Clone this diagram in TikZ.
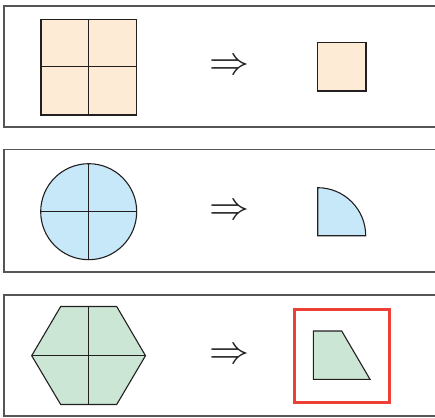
\documentclass[tikz,border=0pt]{standalone}
\usetikzlibrary{calc}
\definecolor{peach}{HTML}{FDEBD6}
\definecolor{skyb}{HTML}{C6E8F8}
\definecolor{mint}{HTML}{CCE6D5}
\definecolor{frame}{HTML}{555555}
\definecolor{ink}{HTML}{231F20}
\definecolor{hl}{HTML}{EC3F36}
\tikzset{
  panel/.style={draw=frame, line width=1.8pt},
  figline/.style={draw=ink, line width=1.1pt, line join=miter},
  cut/.style={draw=ink, line width=1.1pt},
  implies/.style={inner sep=0pt, text=ink},
}
\newcommand{\bigimp}{\scalebox{4}{$\Rightarrow$}}
\begin{document}
\begin{tikzpicture}[x=1pt,y=-1pt]
\useasboundingbox (0,0) rectangle (435,417);
\clip (0,0) rectangle (435,417);
% panels
\draw[panel] (4,6) rectangle (445,127);
\draw[panel] (4,149.5) rectangle (445,272);
\draw[panel] (4,295) rectangle (445,416);
% panel 1
\filldraw[figline, fill=peach] (41,19.5) rectangle (136.5,115);
\draw[cut] (88.7,19.5) -- (88.7,115);
\draw[cut] (41,66.7) -- (136.5,66.7);
\node[implies] (a1) at (229,66.7) {\bigimp};
\filldraw[figline, fill=peach] (317.5,42.7) rectangle (366,91);
% panel 2
\filldraw[figline, fill=skyb] (88.7,211.7) circle (48);
\draw[cut] (88.7,163.7) -- (88.7,259.7);
\draw[cut] (40.7,211.7) -- (136.7,211.7);
\node[implies] (a2) at (229,211.7) {\bigimp};
\filldraw[figline, fill=skyb] (317.7,235.7) -- (317.7,187.7) arc[start angle=-90, end angle=0, radius=48] -- cycle;
% panel 3
\filldraw[figline, fill=mint] (31.7,355.7) -- (60.7,306.5) -- (116.7,306.5) -- (145.5,355.7) -- (116.7,404.5) -- (60.7,404.5) -- cycle;
\draw[cut] (88.7,306.5) -- (88.7,404.5);
\draw[cut] (31.7,355.7) -- (145.5,355.7);
\node[implies] (a3) at (229,356) {\bigimp};
\draw[draw=hl, line width=3pt] (294.5,309) rectangle (389,402.5);
\filldraw[figline, fill=mint] (313.3,331) -- (341.7,331) -- (370,379.3) -- (313.3,379.3) -- cycle;
\end{tikzpicture}
\end{document}
